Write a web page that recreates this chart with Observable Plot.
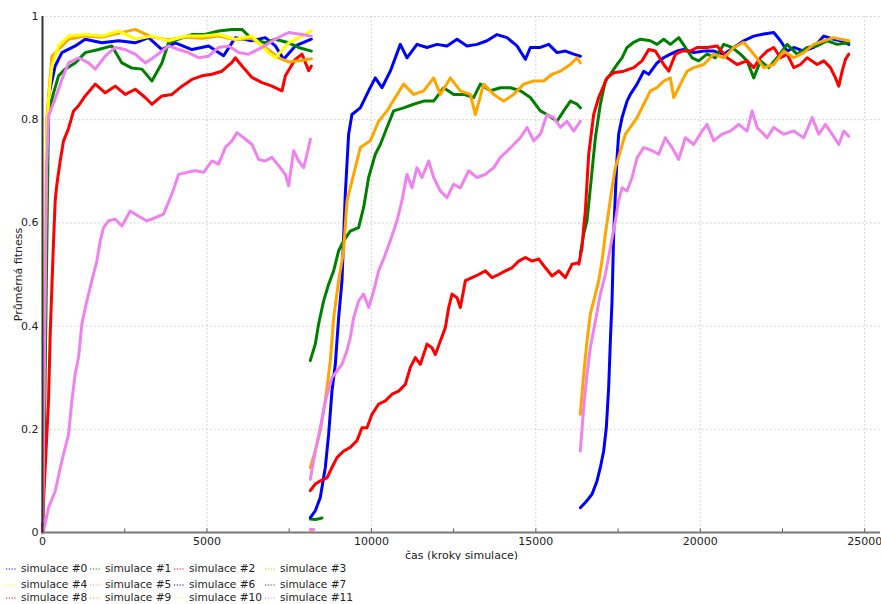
<!DOCTYPE html>
<html>
<head>
<meta charset="utf-8">
<script src="https://cdn.jsdelivr.net/npm/d3@7"></script>
<script src="https://cdn.jsdelivr.net/npm/@observablehq/plot@0.6"></script>
<style>
  body { margin: 0; background: #fff; font-family: "DejaVu Sans", sans-serif; overflow: hidden; }
  #wrap { position: relative; width: 881px; height: 604px; overflow: hidden; }
  .leg { position: absolute; font-size: 10.6px; line-height: 11px; color: #222; white-space: nowrap; display: flex; align-items: center; }
  .leg svg { margin-right: 4px; }
</style>
</head>
<body>
<div id="wrap"><div id="chart"></div></div>
<script>
// ---- series names and colours (legend order) ----
const names = ["simulace #0","simulace #1","simulace #2","simulace #3","simulace #4","simulace #5",
               "simulace #6","simulace #7","simulace #8","simulace #9","simulace #10","simulace #11"];
const colors = ["#0000ff","#008000","#ff0000","#ffa500","#ffff00","#ee82ee",
                "#0000ff","#008000","#ff0000","#ffa500","#ffff00","#ee82ee"];
const xTicks = [0, 5000, 10000, 15000, 20000, 25000];
const yTicks = [0, 0.2, 0.4, 0.6, 0.8, 1];

// ---- phase 1 (0 – 8200) ----
const sim0_p1 = [[0,0.02],[60,0.3],[120,0.65],[184,0.846],[386,0.904],[589,0.93],[995,0.943],[1299,0.956],[1806,0.949],[2313,0.953],[2820,0.949],[3225,0.959],[3631,0.936],[4037,0.949],[4544,0.936],[5051,0.943],[5507,0.924],[5862,0.959],[6369,0.953],[6774,0.959],[7079,0.943],[7332,0.917],[7687,0.943],[8174,0.956]];
const sim1_p1 = [[0,0.01],[60,0.2],[120,0.5],[184,0.814],[336,0.852],[488,0.885],[690,0.898],[995,0.91],[1299,0.93],[1705,0.936],[2110,0.943],[2414,0.91],[2719,0.9],[3023,0.898],[3327,0.875],[3631,0.91],[3834,0.949],[4138,0.956],[4544,0.965],[4949,0.965],[5355,0.972],[5761,0.975],[6065,0.975],[6369,0.956],[6774,0.949],[7079,0.956],[7484,0.949],[7788,0.94],[8174,0.933]];
const sim2_p1 = [[0,0.0],[31,0.06],[82,0.126],[183,0.255],[234,0.384],[285,0.475],[336,0.565],[386,0.643],[437,0.675],[538,0.72],[640,0.759],[792,0.783],[944,0.817],[1096,0.827],[1299,0.846],[1603,0.869],[1907,0.852],[2212,0.865],[2516,0.849],[2820,0.859],[3124,0.843],[3327,0.83],[3631,0.846],[3935,0.849],[4240,0.865],[4544,0.878],[4848,0.885],[5152,0.888],[5456,0.894],[5761,0.911],[5862,0.92],[6065,0.904],[6369,0.882],[6673,0.872],[6977,0.865],[7282,0.856],[7383,0.885],[7687,0.917],[7890,0.927],[8093,0.895],[8174,0.904]];
const sim3_p1 = [[0,0.03],[60,0.4],[130,0.8],[285,0.923],[792,0.956],[1299,0.962],[1806,0.96],[2820,0.975],[3327,0.96],[3834,0.955],[4341,0.96],[4848,0.958],[5355,0.962],[5862,0.955],[6369,0.958],[6876,0.935],[7180,0.92],[7484,0.912],[7890,0.915],[8174,0.918]];
const sim4_p1 = [[0,0.05],[60,0.5],[120,0.75],[184,0.84],[285,0.904],[488,0.943],[792,0.962],[1299,0.965],[1806,0.962],[2313,0.972],[2820,0.956],[3327,0.962],[3834,0.953],[4341,0.962],[4848,0.962],[5355,0.965],[5862,0.956],[6369,0.962],[6876,0.93],[7079,0.92],[7484,0.949],[7890,0.962],[8174,0.972]];
const sim5_p1 = [[0,0.02],[60,0.35],[120,0.7],[184,0.807],[386,0.84],[589,0.878],[792,0.91],[1096,0.92],[1400,0.91],[1603,0.898],[1907,0.923],[2211,0.94],[2516,0.936],[2820,0.927],[3124,0.91],[3428,0.923],[3834,0.943],[4138,0.936],[4442,0.93],[4747,0.92],[5051,0.923],[5355,0.94],[5659,0.943],[5963,0.93],[6268,0.927],[6673,0.94],[7079,0.956],[7484,0.969],[7890,0.965],[8174,0.962]];
const sim11_p1 = [[31,0.003],[183,0.048],[386,0.08],[589,0.139],[792,0.19],[893,0.255],[994,0.307],[1096,0.339],[1197,0.404],[1349,0.449],[1501,0.488],[1653,0.526],[1755,0.565],[1856,0.591],[2008,0.604],[2211,0.607],[2414,0.594],[2667,0.623],[2921,0.613],[3174,0.604],[3428,0.61],[3681,0.617],[3935,0.656],[4138,0.694],[4392,0.698],[4645,0.701],[4899,0.698],[5152,0.72],[5355,0.714],[5558,0.746],[5761,0.759],[5913,0.775],[6116,0.765],[6369,0.752],[6572,0.723],[6774,0.72],[6977,0.727],[7180,0.711],[7383,0.694],[7484,0.672],[7636,0.74],[7788,0.72],[7940,0.707],[8042,0.733],[8144,0.762]];

// ---- phase 2 (8200 – 16350) ----
const sim6_p2 = [[8142,0.029],[8294,0.042],[8446,0.068],[8599,0.126],[8700,0.19],[8801,0.274],[8903,0.326],[9004,0.416],[9106,0.488],[9206,0.655],[9308,0.772],[9409,0.81],[9663,0.823],[9916,0.856],[10119,0.881],[10322,0.862],[10575,0.894],[10879,0.946],[11082,0.92],[11386,0.946],[11691,0.94],[11995,0.946],[12299,0.943],[12603,0.956],[12907,0.943],[13211,0.946],[13516,0.953],[13820,0.965],[14124,0.959],[14428,0.943],[14682,0.917],[14834,0.94],[15138,0.94],[15392,0.946],[15645,0.93],[15899,0.933],[16152,0.927],[16355,0.923]];
const sim7_p2 = [[8142,0.333],[8294,0.365],[8395,0.404],[8548,0.449],[8700,0.481],[8852,0.507],[9004,0.546],[9156,0.565],[9358,0.584],[9612,0.591],[9764,0.63],[9916,0.688],[10119,0.733],[10271,0.752],[10474,0.785],[10677,0.817],[10981,0.823],[11285,0.83],[11589,0.836],[11893,0.836],[12198,0.862],[12502,0.849],[12806,0.849],[13110,0.843],[13313,0.869],[13617,0.856],[13921,0.862],[14225,0.862],[14530,0.856],[14834,0.843],[15138,0.817],[15341,0.81],[15645,0.797],[15848,0.817],[16051,0.836],[16254,0.83],[16355,0.823]];
const sim8_p2 = [[8142,0.081],[8294,0.094],[8446,0.1],[8649,0.106],[8801,0.126],[8953,0.145],[9156,0.158],[9359,0.165],[9562,0.178],[9714,0.203],[9866,0.203],[10018,0.229],[10221,0.249],[10424,0.255],[10627,0.268],[10829,0.274],[11032,0.287],[11184,0.32],[11336,0.339],[11488,0.326],[11691,0.365],[11843,0.358],[11945,0.345],[12097,0.371],[12249,0.397],[12350,0.436],[12452,0.462],[12604,0.455],[12705,0.436],[12857,0.488],[13060,0.494],[13263,0.5],[13466,0.507],[13669,0.494],[13871,0.5],[14074,0.507],[14277,0.513],[14480,0.526],[14683,0.533],[14885,0.526],[15088,0.53],[15291,0.513],[15494,0.497],[15697,0.507],[15899,0.494],[16102,0.52],[16305,0.523]];
const sim9_p2 = [[8142,0.126],[8294,0.158],[8446,0.197],[8599,0.255],[8751,0.333],[8852,0.416],[9004,0.488],[9156,0.546],[9257,0.642],[9460,0.694],[9663,0.746],[9967,0.759],[10220,0.797],[10474,0.817],[10727,0.843],[10981,0.869],[11285,0.849],[11589,0.856],[11893,0.881],[12096,0.849],[12400,0.881],[12704,0.856],[13009,0.849],[13161,0.81],[13414,0.869],[13719,0.849],[14023,0.836],[14327,0.849],[14631,0.869],[14935,0.875],[15240,0.875],[15493,0.888],[15747,0.894],[16051,0.907],[16254,0.92],[16355,0.91]];
const sim11_p2 = [[8142,0.103],[8294,0.158],[8446,0.203],[8599,0.255],[8801,0.3],[8953,0.313],[9106,0.326],[9257,0.352],[9359,0.378],[9460,0.416],[9612,0.449],[9764,0.462],[9917,0.436],[10069,0.468],[10221,0.507],[10424,0.539],[10600,0.57],[10778,0.604],[10930,0.643],[11082,0.694],[11234,0.668],[11386,0.707],[11538,0.688],[11741,0.72],[11893,0.688],[12096,0.662],[12299,0.649],[12502,0.675],[12704,0.668],[12958,0.701],[13211,0.688],[13465,0.694],[13719,0.707],[13921,0.727],[14124,0.739],[14327,0.752],[14530,0.765],[14732,0.785],[14935,0.759],[15138,0.772],[15341,0.81],[15544,0.804],[15747,0.785],[15950,0.797],[16152,0.778],[16355,0.797]];
const sim1_p2 = [[8142,0.026],[8300,0.025],[8497,0.028]];
const sim4_p2 = [[8142,0.003],[8200,0.003]];
const sim5_p2 = [[8142,0.006],[8250,0.006]];

// ---- phase 3 (16350 – 24550) ----
const sim0_p3 = [[16353,0.048],[16505,0.058],[16708,0.074],[16860,0.1],[16962,0.126],[17063,0.158],[17144,0.204],[17215,0.281],[17266,0.371],[17317,0.449],[17367,0.578],[17418,0.655],[17469,0.726],[17519,0.772],[17621,0.804],[17773,0.836],[17874,0.849],[18077,0.869],[18280,0.894],[18432,0.888],[18685,0.91],[18888,0.92],[19091,0.927],[19294,0.933],[19497,0.936],[19801,0.93],[20105,0.933],[20409,0.933],[20714,0.927],[21018,0.94],[21322,0.953],[21626,0.962],[21930,0.966],[22235,0.969],[22438,0.953],[22640,0.933],[22843,0.94],[23147,0.933],[23451,0.94],[23756,0.962],[24060,0.956],[24263,0.953],[24516,0.946]];
const sim1_p3 = [[16353,0.54],[16455,0.578],[16556,0.604],[16708,0.7],[16810,0.765],[16962,0.83],[17114,0.875],[17266,0.888],[17469,0.907],[17621,0.92],[17773,0.94],[17976,0.95],[18179,0.956],[18483,0.953],[18686,0.946],[18888,0.956],[19091,0.946],[19345,0.959],[19548,0.94],[19750,0.92],[19953,0.914],[20207,0.927],[20460,0.92],[20714,0.946],[20967,0.94],[21221,0.927],[21423,0.914],[21626,0.881],[21829,0.914],[22083,0.901],[22336,0.92],[22640,0.946],[22944,0.927],[23248,0.94],[23553,0.943],[23857,0.953],[24161,0.946],[24516,0.949]];
const sim2_p3 = [[16305,0.52],[16404,0.552],[16455,0.591],[16506,0.623],[16607,0.733],[16759,0.81],[16911,0.843],[17165,0.881],[17367,0.891],[17672,0.894],[17976,0.901],[18229,0.914],[18432,0.936],[18635,0.933],[18888,0.907],[19041,0.894],[19243,0.927],[19446,0.933],[19700,0.933],[19903,0.94],[20207,0.94],[20511,0.943],[20815,0.92],[21119,0.907],[21423,0.914],[21626,0.901],[21829,0.92],[22032,0.933],[22235,0.94],[22438,0.92],[22640,0.927],[22843,0.901],[23046,0.907],[23248,0.92],[23553,0.907],[23756,0.914],[23958,0.901],[24110,0.881],[24212,0.865],[24314,0.894],[24415,0.917],[24516,0.927]];
const sim3_p3 = [[16353,0.229],[16455,0.307],[16556,0.371],[16657,0.423],[16810,0.462],[16911,0.488],[17012,0.526],[17114,0.578],[17215,0.623],[17317,0.668],[17418,0.707],[17570,0.739],[17722,0.772],[17874,0.785],[18077,0.804],[18280,0.83],[18483,0.856],[18686,0.862],[18888,0.875],[19091,0.881],[19193,0.843],[19396,0.869],[19598,0.894],[19801,0.901],[20105,0.907],[20409,0.927],[20714,0.92],[21018,0.94],[21322,0.95],[21626,0.927],[21930,0.901],[22235,0.907],[22539,0.933],[22843,0.92],[23147,0.93],[23451,0.946],[23756,0.953],[24060,0.959],[24263,0.956],[24516,0.953]];
const sim5_p3 = [[16353,0.158],[16455,0.242],[16556,0.307],[16657,0.358],[16810,0.41],[16962,0.462],[17114,0.5],[17266,0.552],[17418,0.604],[17519,0.643],[17621,0.668],[17773,0.662],[17925,0.688],[18077,0.726],[18280,0.746],[18533,0.74],[18736,0.733],[18939,0.765],[19142,0.746],[19345,0.723],[19547,0.765],[19801,0.752],[20054,0.778],[20207,0.791],[20409,0.759],[20663,0.772],[20916,0.778],[21170,0.791],[21423,0.778],[21575,0.817],[21727,0.785],[22031,0.765],[22235,0.785],[22539,0.772],[22843,0.778],[23147,0.765],[23401,0.804],[23604,0.772],[23806,0.791],[24009,0.772],[24212,0.752],[24364,0.778],[24516,0.768]];

// ---- assemble (series index, segment) ----
const segments = [
  [0, sim0_p1], [1, sim1_p1], [2, sim2_p1], [3, sim3_p1], [4, sim4_p1], [5, sim5_p1], [11, sim11_p1],
  [1, sim1_p2], [4, sim4_p2], [5, sim5_p2],
  [6, sim6_p2], [7, sim7_p2], [8, sim8_p2], [9, sim9_p2], [11, sim11_p2],
  [0, sim0_p3], [1, sim1_p3], [2, sim2_p3], [3, sim3_p3], [5, sim5_p3]
];
const rows = [];
segments.forEach(([s, pts], k) => pts.forEach(([x, y]) => rows.push({key: k, sim: s, x, y, c: colors[s]})));
rows.sort((a, b) => a.sim - b.sim || a.key - b.key);

const fmtY = d => (d === 0 ? "0" : d === 1 ? "1" : d.toFixed(1));
const minor = d3.range(0, 25001, 2500);

const chart = Plot.plot({
  width: 881,
  height: 560,
  marginLeft: 42,
  marginRight: 1,
  marginTop: 16,
  marginBottom: 28,
  style: {fontFamily: "DejaVu Sans, sans-serif", fontSize: "11px", color: "#222", background: "#fff"},
  x: {type: "linear", domain: [0, 25480]},
  y: {type: "linear", domain: [0, 1]},
  marks: [
    Plot.gridX(xTicks, {stroke: "#c8c8c8", strokeOpacity: 1, strokeDasharray: "1.5,2.5"}),
    Plot.gridY(yTicks, {stroke: "#c8c8c8", strokeOpacity: 1, strokeDasharray: "1.5,2.5"}),
    Plot.ruleX(minor, {x: d => d, y1: 0, y2: 0.007, stroke: "#555", strokeWidth: 1}),
    Plot.axisX(xTicks, {tickSize: 0, tickPadding: 5, tickFormat: d => String(d), label: "čas (kroky simulace)", labelAnchor: "center", labelOffset: 26, labelArrow: "none"}),
    Plot.axisY(yTicks, {tickSize: 0, tickPadding: 4, tickFormat: fmtY, label: "Průměrná fitness", labelAnchor: "center", labelOffset: 28, labelArrow: "none"}),
    Plot.line(rows, {x: "x", y: "y", z: "key", stroke: "c", strokeWidth: 3, strokeLinejoin: "round"}),
    Plot.ruleY([0], {stroke: "#777", strokeWidth: 2}),
    Plot.ruleX([0], {stroke: "#333", strokeWidth: 2})
  ]
});
document.getElementById("chart").appendChild(chart);

// ---- legend (HTML, below the SVG) ----
const wrap = document.getElementById("wrap");
const colX = [5, 89, 173, 264];
const rowY = [563, 579, 592];
names.forEach((n, i) => {
  const r = Math.floor(i / 4), c = i % 4;
  const el = document.createElement("div");
  el.className = "leg";
  el.style.left = colX[c] + "px";
  el.style.top = rowY[r] + "px";
  el.innerHTML = `<svg width="12" height="6"><line x1="1" y1="3" x2="11" y2="3" stroke="${colors[i]}" stroke-width="1.2" stroke-dasharray="1.2,1.6"/></svg>`;
  el.appendChild(document.createTextNode(n));
  wrap.appendChild(el);
});
</script>
</body>
</html>
